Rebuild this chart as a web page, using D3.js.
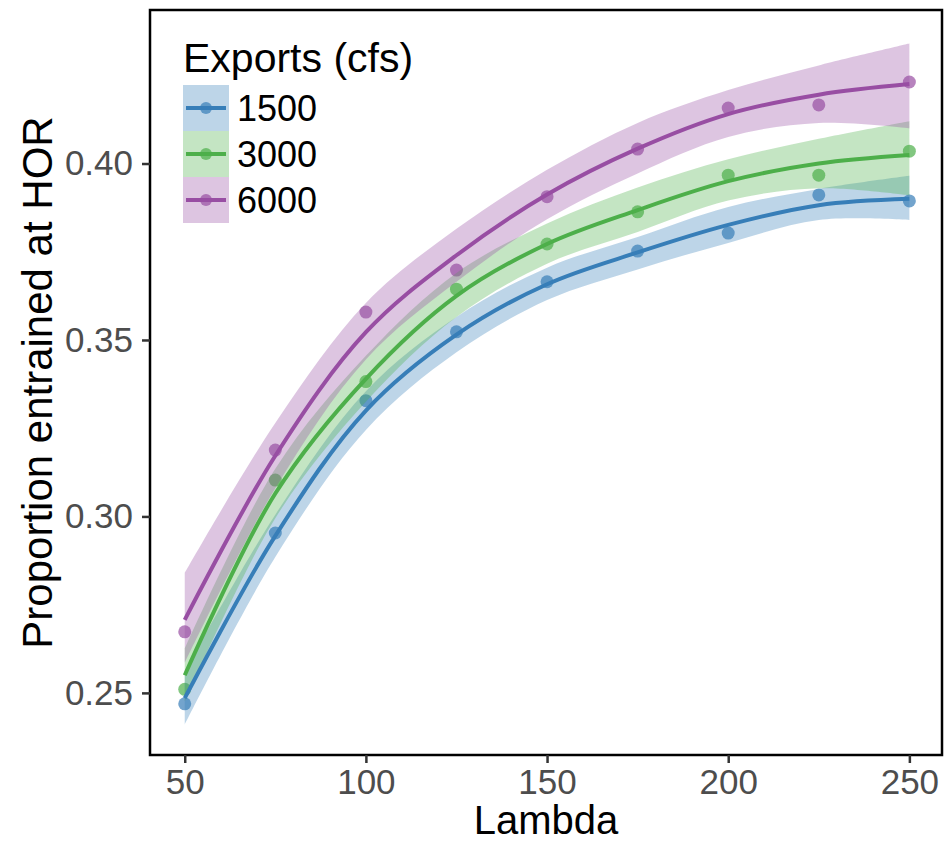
<!DOCTYPE html>
<html>
<head>
<meta charset="utf-8">
<script src="https://cdn.jsdelivr.net/npm/d3@7"></script>
<style>
  body { margin: 0; background: #fff; }
  svg { display: block; }
</style>
</head>
<body>
<svg id="chart" width="945" height="845"></svg>
<script>
// Data
const lambda = [50, 75, 100, 125, 150, 175, 200, 225, 250];
const exportLevels = ["1500", "3000", "6000"];
const seriesColors = ["#377EB8", "#4DAF4A", "#984EA3"];

// observed points
const obs1500 = [0.2469, 0.2953, 0.3328, 0.3523, 0.3665, 0.3752, 0.3803, 0.3911, 0.3894];
const obs3000 = [0.2510, 0.3103, 0.3382, 0.3644, 0.3772, 0.3863, 0.3967, 0.3967, 0.4035];
const obs6000 = [0.2673, 0.3188, 0.3579, 0.3698, 0.3906, 0.4041, 0.4157, 0.4166, 0.4231];

// smooth fit
const fit1500 = [0.2485, 0.2945, 0.3300, 0.3515, 0.3658, 0.3748, 0.3826, 0.3882, 0.3900];
const fit3000 = [0.2550, 0.3065, 0.3390, 0.3625, 0.3772, 0.3868, 0.3950, 0.4000, 0.4024];
const fit6000 = [0.2707, 0.3172, 0.3522, 0.3740, 0.3912, 0.4042, 0.4140, 0.4195, 0.4225];

// confidence band
const lo1500 = [0.2410, 0.2885, 0.3245, 0.3465, 0.3613, 0.3700, 0.3775, 0.3840, 0.3840];
const hi1500 = [0.2560, 0.3005, 0.3355, 0.3565, 0.3705, 0.3792, 0.3877, 0.3928, 0.3965];
const lo3000 = [0.2475, 0.2995, 0.3325, 0.3565, 0.3716, 0.3806, 0.3895, 0.3930, 0.3910];
const hi3000 = [0.2625, 0.3135, 0.3455, 0.3690, 0.3830, 0.3932, 0.4012, 0.4070, 0.4120];
const lo6000 = [0.2585, 0.3080, 0.3445, 0.3665, 0.3842, 0.3972, 0.4075, 0.4115, 0.4100];
const hi6000 = [0.2840, 0.3265, 0.3605, 0.3815, 0.3982, 0.4115, 0.4208, 0.4278, 0.4340];

const xTicks = [50, 100, 150, 200, 250];
const yTicks = [0.25, 0.30, 0.35, 0.40];

const obsAll = [obs1500, obs3000, obs6000];
const fitAll = [fit1500, fit3000, fit6000];
const loAll = [lo1500, lo3000, lo6000];
const hiAll = [hi1500, hi3000, hi6000];

const series = exportLevels.map((name, i) => ({
    name: name,
    color: seriesColors[i],
    rows: lambda.map((x, j) => ({
        x: x, obs: obsAll[i][j], fit: fitAll[i][j], lo: loAll[i][j], hi: hiAll[i][j]
    }))
}));

const svg = d3.select("#chart");
const panel = {left: 150, right: 942, top: 10, bottom: 755};
const fontFamily = "Liberation Sans, Arial, sans-serif";

const xScale = d3.scaleLinear().domain([40, 260]).range([148.5, 945.6]);
const yScale = d3.scaleLinear().domain([0.2324, 0.4435]).range([panel.bottom, panel.top]);

svg.append("rect").attr("width", 945).attr("height", 845).attr("fill", "#fff");

const plot = svg.append("g");

// points (drawn underneath the smooths)
series.forEach(s => {
    plot.append("g")
        .selectAll("circle")
        .data(s.rows)
        .enter()
        .append("circle")
        .attr("cx", d => xScale(d.x))
        .attr("cy", d => yScale(d.obs))
        .attr("r", 6.5)
        .style("fill", s.color)
        .style("fill-opacity", 0.7);
});

// ribbons
const area = d3.area()
    .x(d => xScale(d.x))
    .y0(d => yScale(d.lo))
    .y1(d => yScale(d.hi))
    .curve(d3.curveCatmullRom.alpha(0.5));

series.forEach(s => {
    plot.append("path")
        .datum(s.rows)
        .attr("d", area)
        .style("fill", s.color)
        .style("fill-opacity", 0.33);
});

// fitted lines
const line = d3.line()
    .x(d => xScale(d.x))
    .y(d => yScale(d.fit))
    .curve(d3.curveCatmullRom.alpha(0.5));

series.forEach(s => {
    plot.append("path")
        .datum(s.rows)
        .attr("d", line)
        .style("fill", "none")
        .style("stroke", s.color)
        .style("stroke-width", 4);
});

// panel border
svg.append("rect")
    .attr("x", panel.left)
    .attr("y", panel.top)
    .attr("width", panel.right - panel.left)
    .attr("height", panel.bottom - panel.top)
    .style("fill", "none")
    .style("stroke", "#000")
    .style("stroke-width", 2.5);

// axes
const xAxis = svg.append("g")
    .attr("transform", "translate(0," + panel.bottom + ")")
    .call(d3.axisBottom(xScale).tickValues(xTicks).tickSize(8).tickPadding(6));
const yAxis = svg.append("g")
    .attr("transform", "translate(" + panel.left + ",0)")
    .call(d3.axisLeft(yScale).tickValues(yTicks).tickFormat(d3.format(".2f")).tickSize(8).tickPadding(9));

[xAxis, yAxis].forEach(ax => {
    ax.select(".domain").remove();
    ax.selectAll(".tick line").style("stroke", "#333").style("stroke-width", 2.5);
    ax.selectAll(".tick text")
        .style("font-family", fontFamily)
        .style("font-size", "35px")
        .style("fill", "#4d4d4d");
});

// axis titles
svg.append("text")
    .attr("x", (panel.left + panel.right) / 2)
    .attr("y", 834)
    .attr("text-anchor", "middle")
    .style("font-family", fontFamily)
    .style("font-size", "40px")
    .text("Lambda");

svg.append("text")
    .attr("text-anchor", "middle")
    .attr("transform", "translate(52," + ((panel.top + panel.bottom) / 2) + ")rotate(-90)")
    .style("font-family", fontFamily)
    .style("font-size", "42px")
    .text("Proportion entrained at HOR");

// legend
const legend = svg.append("g").attr("transform", "translate(183,0)");
legend.append("text")
    .attr("x", 0)
    .attr("y", 72)
    .style("font-family", fontFamily)
    .style("font-size", "41px")
    .text("Exports (cfs)");

const keyH = 46;
const keys = legend.selectAll(".key")
    .data(series)
    .enter()
    .append("g")
    .attr("class", "key")
    .attr("transform", (d, i) => "translate(0," + (85 + i * keyH) + ")");

keys.append("rect")
    .attr("width", 46)
    .attr("height", keyH)
    .style("fill", d => d.color)
    .style("fill-opacity", 0.33);
keys.append("line")
    .attr("x1", 3).attr("x2", 43)
    .attr("y1", keyH / 2).attr("y2", keyH / 2)
    .style("stroke", d => d.color)
    .style("stroke-width", 4);
keys.append("circle")
    .attr("cx", 23).attr("cy", keyH / 2)
    .attr("r", 6)
    .style("fill", d => d.color)
    .style("fill-opacity", 0.7);
keys.append("text")
    .attr("x", 54)
    .attr("y", keyH / 2 + 13)
    .style("font-family", fontFamily)
    .style("font-size", "36px")
    .text(d => d.name);
</script>
</body>
</html>
